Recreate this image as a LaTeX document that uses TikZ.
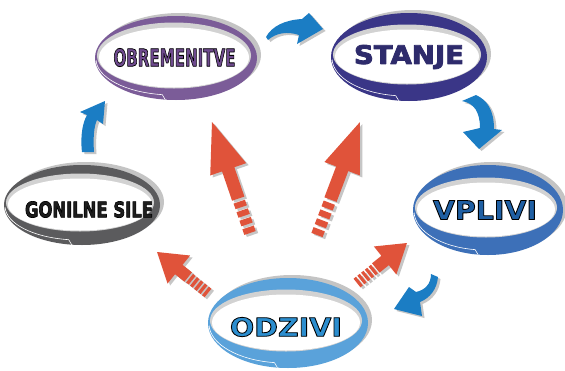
\documentclass[tikz,border=0pt]{standalone}
\usepackage{fontspec}
\usetikzlibrary{calc}
\newfontfamily\condfont{DejaVu Sans Condensed}
\newfontfamily\widefont{DejaVu Sans}
\definecolor{ringobr}{HTML}{7B5C98}
\definecolor{textobr}{HTML}{6E4A8E}
\definecolor{ringsta}{HTML}{3A3687}
\definecolor{textsta}{HTML}{2E2B6C}
\definecolor{ringgon}{HTML}{5B5B5D}
\definecolor{textgon}{HTML}{1E1E1E}
\definecolor{ringvpl}{HTML}{3D70B8}
\definecolor{textvpl}{HTML}{1F5FA3}
\definecolor{ringodz}{HTML}{5AA2DA}
\definecolor{textodz}{HTML}{2C8ECF}
\definecolor{ringgray}{HTML}{D2D2D2}
\definecolor{ringshadow}{HTML}{C4C4C4}
\definecolor{arrowred}{HTML}{E0533A}
\definecolor{arrowblue}{HTML}{1B7DC4}
\definecolor{arrowshadow}{HTML}{C6C6C6}
\newcommand\curvedarrow[1]{\fill[arrowshadow,shift={(2.5,2)}] #1; \fill[arrowblue] #1;}
% text filled in the current colour and stroked with the RGB colour #1
\newcommand\outlined[2]{\special{pdf:code q 2 Tr 0.32 w 1 j #1 RG}#2\special{pdf:code Q}}
\tikzset{
  lbl/.style={inner sep=0pt, outer sep=0pt},
  pics/ring/.style n args={4}{code={
    \fill[ringshadow] (4,-3) ellipse [x radius=#2, y radius=#3];
    \fill[#1] (0,0) ellipse [x radius=#2, y radius=#3];
    \fill[ringgray] (-2,-2.5) ellipse [x radius=#2-4, y radius=#4+3];
    \fill[white] (-2,-0.5) ellipse [x radius=#2-6, y radius=#4];
    \draw[white, line width=0.6pt] (-3,1) ++(178:{#2-4} and {#3-6}) arc [start angle=178, end angle=98, x radius=#2-4, y radius=#3-6] -- ++(3,5);
  }},
  pics/redarrow/.style n args={6}{code={
    \fill[pic actions] (#1,0) -- ({#1-#2},#3) -- ({#1-#2},#4) -- ({#1-#2-#5},#4) -- ({#1-#2-#5},-#4) -- ({#1-#2},-#4) -- ({#1-#2},-#3) -- cycle;
    \pgfmathsetmacro\stripeL{(#1-#2-#5)/#6}
    \foreach \i in {1,...,#6} {
      \fill[pic actions] ({(\i-1)*\stripeL},{-#4+0.5}) rectangle ({(\i-0.35)*\stripeL},{#4-0.5});
    }
  }},
}
\begin{document}
\begin{tikzpicture}[x=1pt,y=-1pt]
\useasboundingbox (0,0) rectangle (565,370);
\fill[white] (0,0) rectangle (565,370);

% text anchors (nodes)
\coordinate (cobr) at (174.5,57.5);
\coordinate (csta) at (409,57);
\coordinate (cgon) at (89,209.5);
\coordinate (cvpl) at (485,210);
\coordinate (codz) at (286,327);

% rings
\pic at ($(cobr)+(1.5,0.5)$) {ring={ringobr}{81}{42}{30}};
\pic at ($(csta)+(0,0)$) {ring={ringsta}{78}{44}{27}};
\pic at ($(cgon)+(-7,-4.5)$) {ring={ringgon}{78}{40}{26}};
\pic at ($(cvpl)+(3,0)$) {ring={ringvpl}{75}{45}{27}};
\pic at ($(codz)+(2,-4)$) {ring={ringodz}{80}{45}{28}};

% labels
\node[lbl] (obr) at (cobr) {\textcolor{textobr}{\outlined{0 0 0}{\resizebox{122pt}{18pt}{\condfont\bfseries OBREMENITVE}}}};
\node[lbl] (sta) at (csta) {\textcolor{textsta}{\outlined{0.18 0.17 0.42}{\resizebox{110pt}{19pt}{\widefont\bfseries STANJE}}}};
\node[lbl] (gon) at (cgon) {\textcolor{textgon}{\outlined{0 0 0}{\resizebox{128pt}{16pt}{\condfont\bfseries GONILNE SILE}}}};
\node[lbl] (vpl) at (cvpl) {\textcolor{textvpl}{\outlined{0 0 0}{\resizebox{104pt}{19pt}{\widefont\bfseries VPLIVI}}}};
\node[lbl] (odz) at (codz) {\textcolor{textodz}{\outlined{0 0 0}{\resizebox{112pt}{19pt}{\widefont\bfseries ODZIVI}}}};

% blue curved arrows (cycle)
\curvedarrow{(82,152) .. controls (80,135) and (83,122) .. (87,115) -- (80,112) -- (105,101) -- (103,124) -- (97,120) .. controls (94,126) and (93,138) .. (94,152) -- cycle}
\curvedarrow{(266,37) .. controls (272,26) and (285,20) .. (302,19) -- (309,13) -- (323,29) -- (297,44) -- (299,35) .. controls (287,31) and (276,33) .. (268,40) -- cycle}
\curvedarrow{(462,101) .. controls (474,103) and (480,112) .. (480,128) -- (463,132) -- (479,149) -- (502,130) -- (494,129) .. controls (494,110) and (487,100) .. (476,95) -- cycle}
\curvedarrow{(431,274) .. controls (431,284) and (425,290) .. (416,292) -- (409,287) -- (394,309) -- (422,316) -- (420,302) .. controls (430,298) and (437,289) .. (438,277) -- cycle}

% red arrows from ODZIVI
\coordinate (r1tail) at (250,233); \coordinate (r1tip) at (212,122);
\coordinate (r2tail) at (317,235); \coordinate (r2tip) at (360,122);
\coordinate (r3tail) at (208,293); \coordinate (r3tip) at (157,252);
\coordinate (r4tail) at (357,283); \coordinate (r4tip) at (407,243);

\foreach \ta/\tb/\hl/\hw/\sw/\sl/\ns in {r1tail/r1tip/50/19/6.5/31/4, r2tail/r2tip/50/19/6.5/33/4, r3tail/r3tip/28/18/6/12/5, r4tail/r4tip/28/18/6/12/5} {
  \path let \p1=($(\tb)-(\ta)$), \n1={atan2(\y1,\x1)}, \n2={veclen(\x1,\y1)} in
    ($(\ta)+(2.5,2)$) pic[fill=arrowshadow, rotate=\n1] {redarrow={\n2}{\hl}{\hw}{\sw}{\sl}{\ns}}
    (\ta) pic[fill=arrowred, rotate=\n1] {redarrow={\n2}{\hl}{\hw}{\sw}{\sl}{\ns}};
}
\end{tikzpicture}
\end{document}
